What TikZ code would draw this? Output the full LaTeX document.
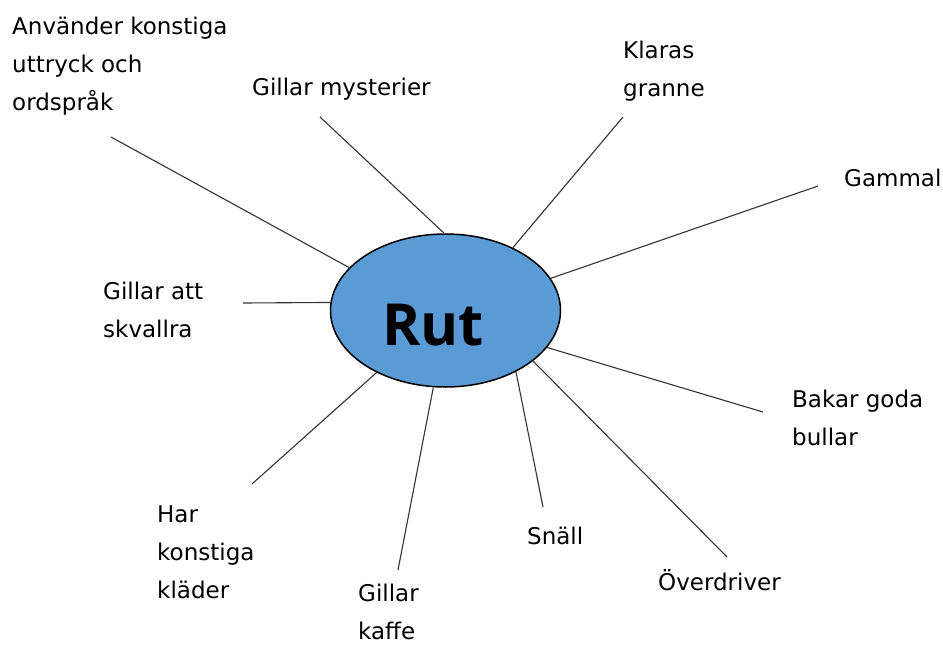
\documentclass[tikz,border=0pt]{standalone}
\usepackage{fontspec}
\setmainfont{DejaVu Sans}
\newfontfamily\rutfont{Open Sans}
\usetikzlibrary{shapes.geometric}
\definecolor{rutblue}{HTML}{5B9BD5}
\definecolor{linegray}{HTML}{333333}
\begin{document}
\begin{tikzpicture}[x=1pt,y=-1pt,
  lbl/.style={anchor=base west, inner sep=0pt, align=left, font=\fontsize{23}{38}\selectfont},
  spoke/.style={draw=linegray, line width=1.1pt}]
\useasboundingbox[fill=white] (0,0) rectangle (943,646);
\node[ellipse, draw=black, line width=1.5pt, fill=rutblue, minimum width=230pt, minimum height=153pt, inner sep=0pt] (rut) at (445.5,310.5) {};
\node[anchor=base west, inner sep=0pt, font=\rutfont\bfseries\fontsize{58}{58}\selectfont] (ruttext) at (382,345) {Rut};

% base anchor = baseline of the last line
\node[lbl] (a1) at (12,110) {Använder konstiga\\uttryck och\\ordspråk};
\node[lbl] (a2) at (252,95) {Gillar mysterier};
\node[lbl] (a3) at (623,96) {Klaras\\granne};
\node[lbl] (a4) at (844,186) {Gammal};
\node[lbl] (a5) at (103,337) {Gillar att\\skvallra};
\node[lbl] (a6) at (792,445) {Bakar goda\\bullar};
\node[lbl] (a7) at (157,598) {Har\\konstiga\\kläder};
\node[lbl] (a8) at (358,639) {Gillar\\kaffe};
\node[lbl] (a9) at (527,544) {Snäll};
\node[lbl] (a10) at (658,590) {Överdriver};

\coordinate (c1) at (111,137);
\coordinate (c2) at (320,117);
\coordinate (c3) at (623,117);
\coordinate (c4) at (818,186);
\coordinate (c5) at (243,303);
\coordinate (c6) at (763,412);
\coordinate (c7) at (252,484);
\coordinate (c8) at (398,570);
\coordinate (c9) at (543,507);
\coordinate (c10) at (727,557);

\draw[spoke] (c1) -- (rut.156.4);
\draw[spoke] (c2) -- (rut.91.1);
\draw[spoke] (c3) -- (rut.43.7);
\draw[spoke] (c4) -- (rut.17.6);
\draw[spoke] (c5) -- (rut.176.3);
\draw[spoke] (c6) -- (rut.-20.6);
\draw[spoke] (c7) -- (rut.222.8);
\draw[spoke] (c8) -- (rut.261.6);
\draw[spoke] (c9) -- (rut.-41.6);
\draw[spoke] (c10) -- (rut.-30.5);
\end{tikzpicture}
\end{document}
